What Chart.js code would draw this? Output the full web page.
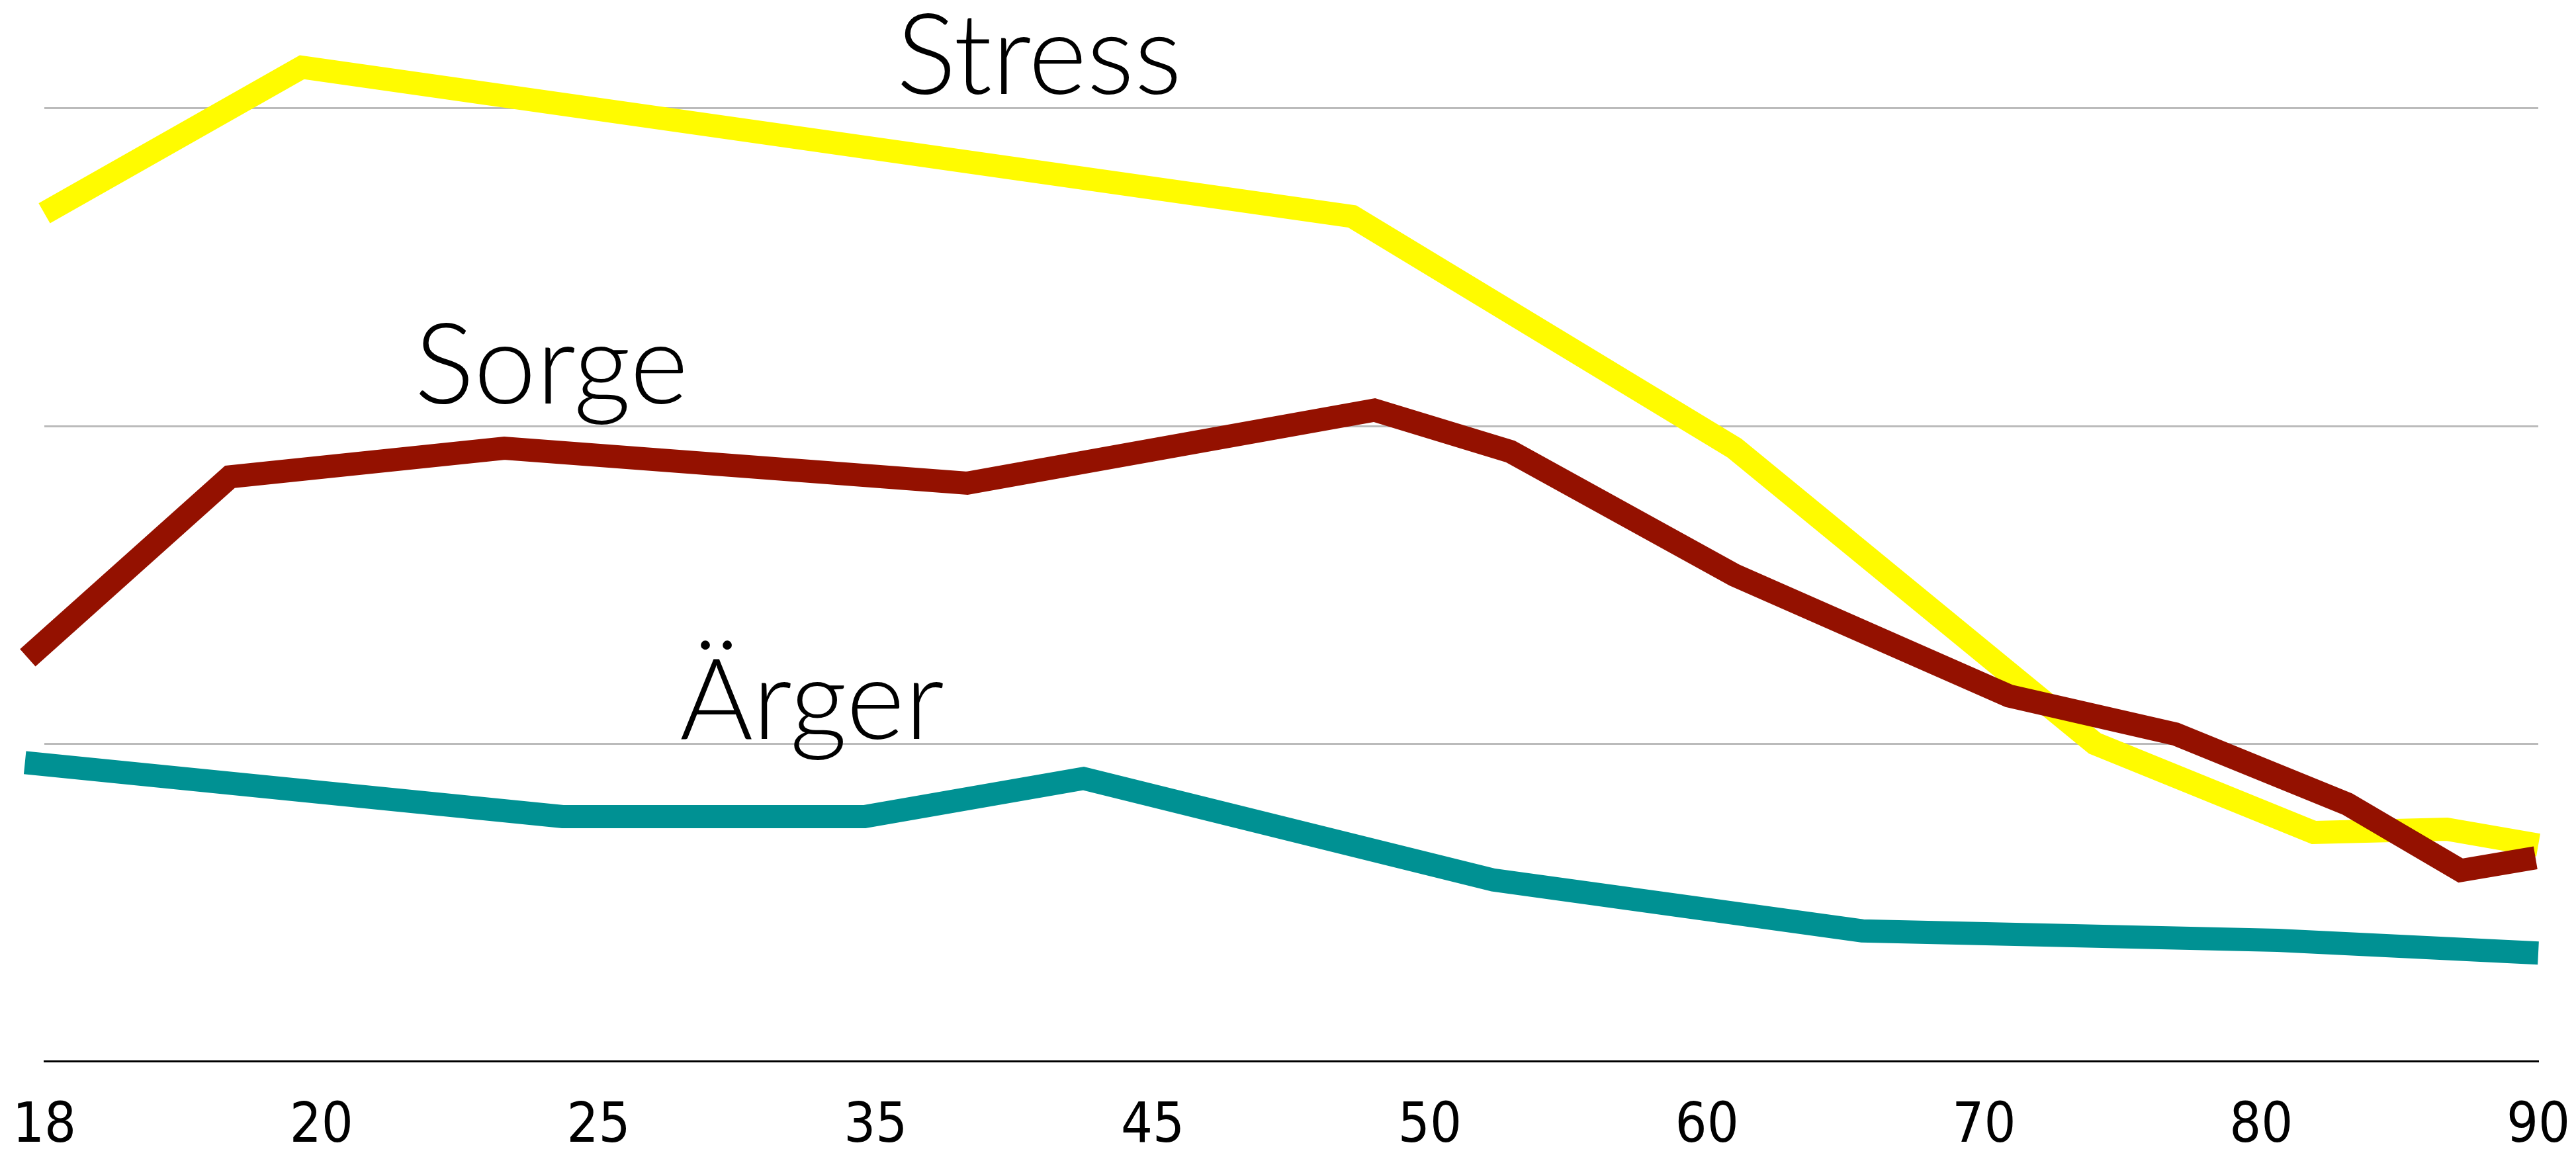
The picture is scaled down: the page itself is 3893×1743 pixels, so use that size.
<!DOCTYPE html>
<html>
<head>
<meta charset="utf-8">
<script src="https://cdn.jsdelivr.net/npm/chart.js@4/dist/chart.umd.min.js"></script>
<style>
  html, body { margin: 0; padding: 0; background: #fff; }
  canvas { display: block; }
</style>
</head>
<body>
<canvas id="chart" width="3893" height="1743"></canvas>
<script>
// x positions are counted in tick steps (0 = "18", 9 = "90")
const ageLabels = ['18', '20', '25', '35', '45', '50', '60', '70', '80', '90']
const seriesNames = ['Stress', 'Sorge', 'Ärger']

const stressX = [0, 0.93, 4.72, 6.10, 7.40, 8.19, 8.67, 9.0]
const stressY = [2.67, 3.13, 2.66, 1.93, 1.0, 0.72, 0.73, 0.68]

const sorgeX = [-0.06, 0.67, 1.66, 3.33, 4.80, 5.29, 6.10, 7.09, 7.69, 8.31, 8.72, 8.99]
const sorgeY = [1.27, 1.84, 1.93, 1.82, 2.05, 1.92, 1.53, 1.15, 1.03, 0.81, 0.60, 0.64]

const aergerX = [-0.07, 1.87, 2.96, 3.75, 5.23, 6.56, 8.06, 9.0]
const aergerY = [0.94, 0.77, 0.77, 0.89, 0.57, 0.41, 0.38, 0.34]

const toPoints = (xs, ys) => xs.map((x, i) => ({ x: x, y: ys[i] }))

// draws the series names straight into the plot
const seriesLabels = {
  id: 'seriesLabels',
  afterDatasetsDraw(chart, args, opts) {
    const { ctx, scales: { x, y } } = chart
    ctx.save()
    ctx.font = opts.font
    ctx.fillStyle = '#000'
    ctx.textAlign = 'center'
    ctx.textBaseline = 'alphabetic'
    opts.items.forEach(item => {
      ctx.fillText(item.text, x.getPixelForValue(item.x), y.getPixelForValue(item.y))
    })
    ctx.restore()
  }
}

const lineStyle = {
  borderWidth: 35,
  borderJoinStyle: 'miter',
  borderCapStyle: 'butt',
  pointRadius: 0,
  fill: false,
  tension: 0,
  clip: false
}

new Chart(document.getElementById('chart'), {
  type: 'line',
  data: {
    datasets: [
      { label: seriesNames[0], data: toPoints(stressX, stressY), borderColor: '#FFFB00', order: 1, ...lineStyle },
      { label: seriesNames[1], data: toPoints(sorgeX, sorgeY), borderColor: '#941100', order: 0, ...lineStyle },
      { label: seriesNames[2], data: toPoints(aergerX, aergerY), borderColor: '#009193', order: 2, ...lineStyle }
    ]
  },
  options: {
    responsive: false,
    animation: false,
    layout: { padding: { top: 20, right: 57, left: 0, bottom: 0 } },
    plugins: {
      legend: { display: false },
      tooltip: { enabled: false },
      seriesLabels: {
        font: '300 169px Lato',
        items: [
          { text: seriesNames[0], x: 3.59, y: 3.045 },
          { text: seriesNames[1], x: 1.83, y: 2.07 },
          { text: seriesNames[2], x: 2.77, y: 1.015 }
        ]
      }
    },
    scales: {
      x: {
        type: 'linear',
        min: 0,
        max: 9,
        afterFit: s => {
          s.height = 139
          s.paddingLeft = 0
          s.paddingRight = 0
        },
        ticks: {
          stepSize: 1,
          autoSkip: false,
          maxRotation: 0,
          padding: 50,
          color: '#000',
          font: { family: "'Liberation Sans Narrow', 'DejaVu Sans Condensed', Lato, sans-serif", size: 84 },
          callback: v => ageLabels[v]
        },
        grid: { display: false, drawTicks: false },
        border: { display: true, color: '#000', width: 3 }
      },
      y: {
        min: 0,
        max: 3.3,
        afterFit: s => {
          s.width = 67
          s.paddingTop = 0
          s.paddingBottom = 0
        },
        ticks: { display: false, stepSize: 1 },
        grid: {
          drawTicks: false,
          lineWidth: 3,
          color: c => (Number.isInteger(c.tick.value) && c.tick.value > 0) ? '#bbbbbb' : 'rgba(0,0,0,0)'
        },
        border: { display: false }
      }
    }
  },
  plugins: [seriesLabels]
})
</script>
</body>
</html>
